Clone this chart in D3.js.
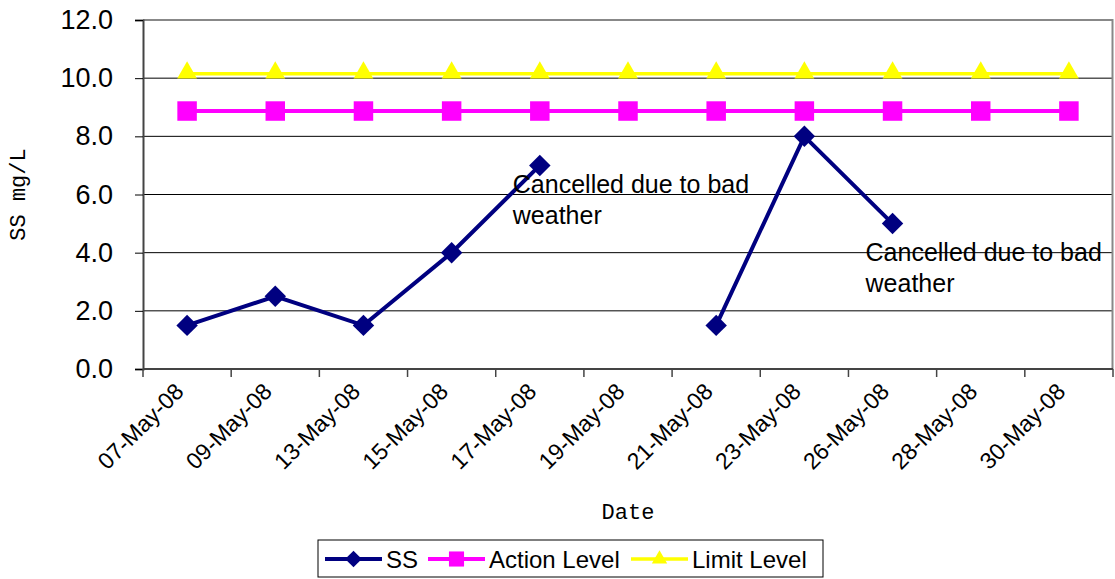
<!DOCTYPE html>
<html>
<head>
<meta charset="utf-8">
<script src="https://cdn.jsdelivr.net/npm/d3@7"></script>
<style>
  body { margin: 0; background: #fff; }
  text { font-family: "Liberation Sans", Arial, sans-serif; }
</style>
</head>
<body>
<script>
'use strict'

let width = 1115, height = 579
let margin = { top: 20, right: 2, bottom: 210, left: 143 }

// data
let dates = ["07-May-08", "09-May-08", "13-May-08", "15-May-08", "17-May-08", "19-May-08",
             "21-May-08", "23-May-08", "26-May-08", "28-May-08", "30-May-08"]
let ss = [1.5, 2.5, 1.5, 4.0, 7.0, null, 1.5, 8.0, 5.0, null, null]
let action = [8.87, 8.87, 8.87, 8.87, 8.87, 8.87, 8.87, 8.87, 8.87, 8.87, 8.87]
let limit = [10.15, 10.15, 10.15, 10.15, 10.15, 10.15, 10.15, 10.15, 10.15, 10.15, 10.15]
let yTicks = [0, 2, 4, 6, 8, 10, 12]
let notes = [
  { date: "17-May-08", value: 6.05, lines: ["Cancelled due to bad", "weather"] },
  { date: "26-May-08", value: 3.7, lines: ["Cancelled due to bad", "weather"] }
]

let svg = d3.select("body").append("svg")
  .attr("width", width).attr("height", height)

let x = d3.scaleBand().domain(dates).range([margin.left, width - margin.right])
let y = d3.scaleLinear().domain([0, 12]).range([height - margin.bottom, margin.top])
let cx = d => x(d) + x.bandwidth() / 2

// gridlines
svg.append("g").selectAll("line").data(yTicks.slice(1, -1)).enter().append("line")
  .attr("x1", margin.left).attr("x2", width - margin.right)
  .attr("y1", d => y(d)).attr("y2", d => y(d))
  .attr("stroke", "#000").attr("stroke-width", 1)

// plot frame top / right
svg.append("path")
  .attr("d", "M" + margin.left + "," + y(12) + "H" + (width - margin.right - 0.5) + "V" + y(0))
  .attr("fill", "none").attr("stroke", "#888").attr("stroke-width", 2)

// y axis
let yAxis = svg.append("g")
  .attr("transform", "translate(" + margin.left + ",0)")
  .call(d3.axisLeft(y).tickValues(yTicks).tickFormat(d3.format(".1f")).tickSize(8).tickPadding(22))
yAxis.select(".domain").attr("stroke", "#444").attr("stroke-width", 2)
yAxis.selectAll("text").attr("font-size", 27).attr("fill", "#000")

// x axis, ticks on category boundaries
let bounds = dates.map(d => x(d)).concat([x.range()[1]])
let xg = svg.append("g")
xg.append("line")
  .attr("x1", margin.left).attr("x2", width - margin.right)
  .attr("y1", y(0)).attr("y2", y(0))
  .attr("stroke", "#444").attr("stroke-width", 2)
xg.selectAll("line.tk").data(bounds).enter().append("line").attr("class", "tk")
  .attr("x1", d => d).attr("x2", d => d)
  .attr("y1", y(0)).attr("y2", y(0) + 8)
  .attr("stroke", "#444").attr("stroke-width", 1.5)
xg.selectAll("text").data(dates).enter().append("text")
  .attr("text-anchor", "end")
  .attr("font-size", 23)
  .attr("transform", d => "translate(" + (cx(d) - 2) + "," + (y(0) + 24) + ")rotate(-45)")
  .text(d => d)

// axis titles
svg.append("text")
  .attr("text-anchor", "middle")
  .style("font-family", "Liberation Mono, monospace")
  .attr("font-size", 22)
  .attr("transform", "translate(25," + ((y(0) + y(12)) / 2) + ")rotate(-90)")
  .text("SS mg/L")
svg.append("text")
  .attr("text-anchor", "middle")
  .style("font-family", "Liberation Mono, monospace")
  .attr("font-size", 22)
  .attr("x", 628).attr("y", 519)
  .text("Date")

// series
let series = [
  { name: "SS", values: ss, color: "#000080", width: 4, shape: d3.symbolSquare, rot: 45, size: 230 },
  { name: "Action Level", values: action, color: "#FF00FF", width: 4, shape: d3.symbolSquare, rot: 0, size: 380 },
  { name: "Limit Level", values: limit, color: "#FFFF00", width: 3.5, shape: d3.symbolTriangle, rot: 0, size: 170 }
]

let line = d3.line()
  .defined(d => d.v != null)
  .x(d => cx(d.date)).y(d => y(d.v))

series.slice().reverse().forEach(s => {
  let pts = dates.map((d, i) => ({ date: d, v: s.values[i] }))
  svg.append("path").datum(pts)
    .attr("d", line)
    .attr("fill", "none").attr("stroke", s.color).attr("stroke-width", s.width)
  svg.append("g").selectAll("path").data(pts.filter(p => p.v != null)).enter().append("path")
    .attr("d", d3.symbol().type(s.shape).size(s.size))
    .attr("transform", p => "translate(" + cx(p.date) + "," + (y(p.v) - (s.shape === d3.symbolTriangle ? 1 : 0)) + ")rotate(" + s.rot + ")")
    .attr("fill", s.color)
})

// annotations
notes.forEach(n => {
  let t = svg.append("text")
    .attr("font-size", 25)
    .attr("x", cx(n.date) - 27)
    .attr("y", y(n.value))
  n.lines.forEach((l, i) => {
    t.append("tspan").attr("x", cx(n.date) - 27).attr("dy", i === 0 ? 0 : 31).text(l)
  })
})

// legend
let lg = svg.append("g").attr("transform", "translate(318,540)")
lg.append("rect").attr("width", 505).attr("height", 37)
  .attr("fill", "#fff").attr("stroke", "#000").attr("stroke-width", 1)
let lx = [7, 110, 313]
series.forEach((s, i) => {
  let g = lg.append("g").attr("transform", "translate(" + lx[i] + ",19)")
  g.append("line").attr("x1", 0).attr("x2", 57)
    .attr("stroke", s.color).attr("stroke-width", s.width)
  g.append("path")
    .attr("d", d3.symbol().type(s.shape).size(s.size * 0.6))
    .attr("transform", "translate(28.5,0)rotate(" + s.rot + ")")
    .attr("fill", s.color)
  g.append("text").attr("x", 61).attr("y", 9).attr("font-size", 24).text(s.name)
})
</script>
</body>
</html>
